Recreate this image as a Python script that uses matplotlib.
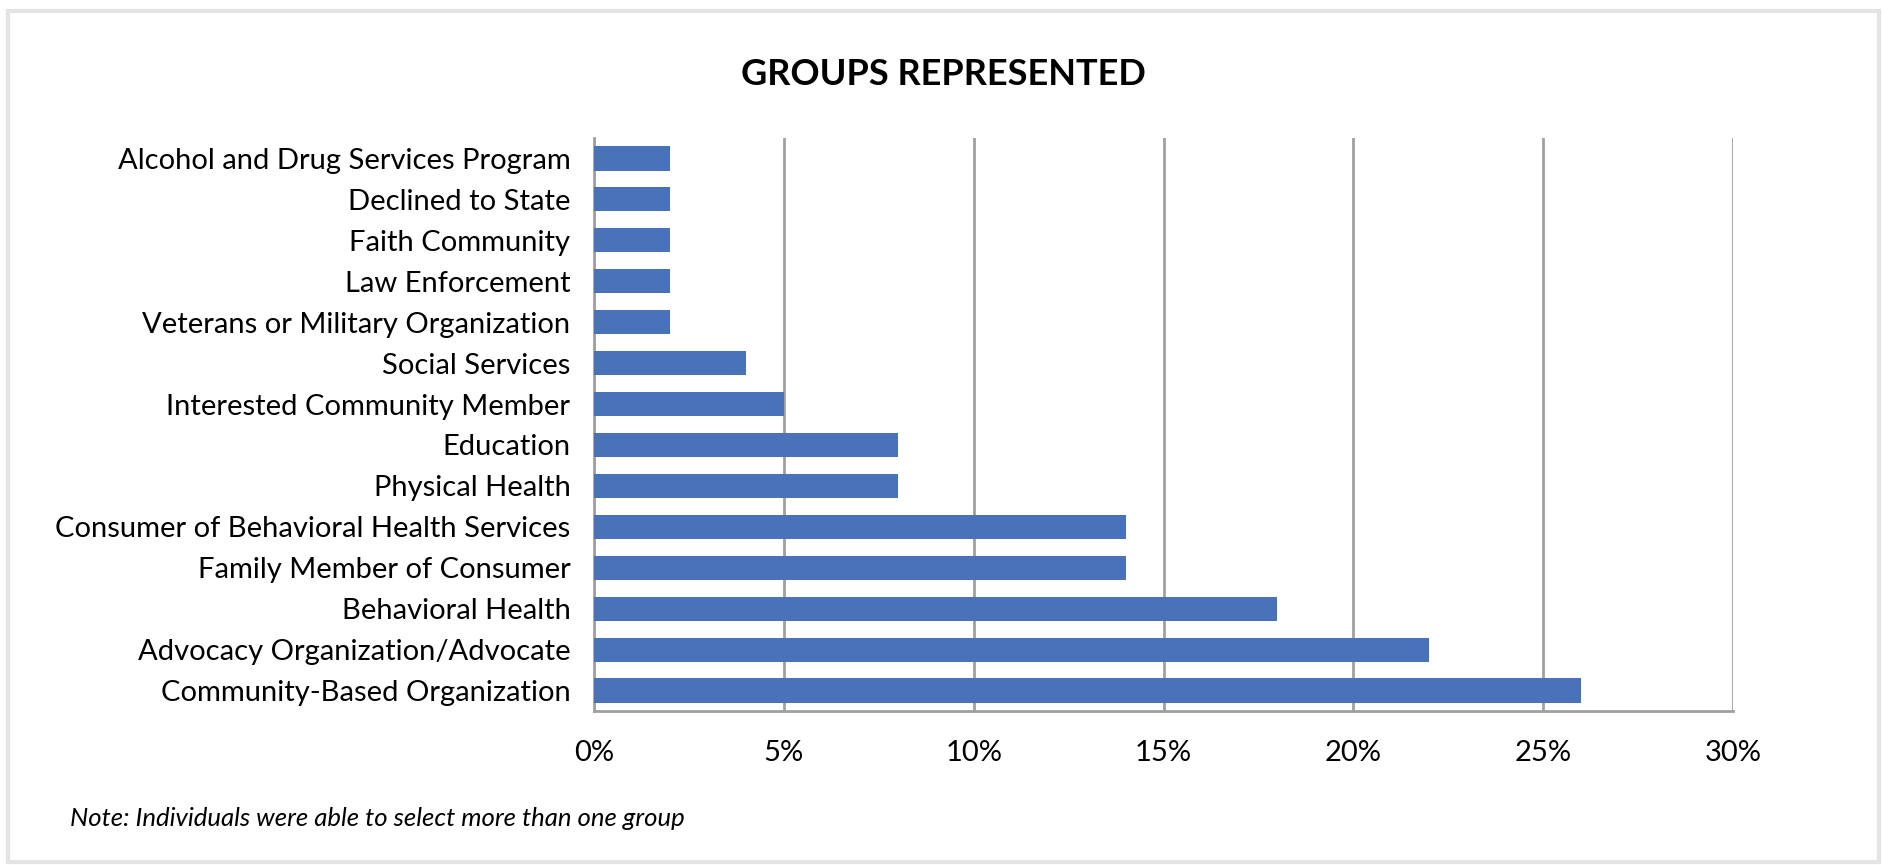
import matplotlib.pyplot as plt
from matplotlib.patches import Rectangle
from matplotlib.ticker import FuncFormatter

groups = [
    "Alcohol and Drug Services Program",
    "Declined to State",
    "Faith Community",
    "Law Enforcement",
    "Veterans or Military Organization",
    "Social Services",
    "Interested Community Member",
    "Education",
    "Physical Health",
    "Consumer of Behavioral Health Services",
    "Family Member of Consumer",
    "Behavioral Health",
    "Advocacy Organization/Advocate",
    "Community-Based Organization",
]
pct = [2, 2, 2, 2, 2, 4, 5, 8, 8, 14, 14, 18, 22, 26]
xticks = [0, 5, 10, 15, 20, 25, 30]

plt.rcParams['font.family'] = ['Lato', 'DejaVu Sans']

fig = plt.figure(figsize=(18.83, 8.65), dpi=100)
ax = fig.add_axes([0.3155, 0.178, 0.6048, 0.6625])

ypos = list(range(len(groups)))
ax.barh(ypos, pct, height=0.59, color="#4a72b8", zorder=3)
ax.set_ylim(len(groups) - 0.5, -0.5)
ax.set_yticks(ypos)
ax.set_yticklabels(groups, fontsize=21)
ax.set_xlim(0, 30)
ax.set_xticks(xticks)
ax.xaxis.set_major_formatter(FuncFormatter(lambda v, p: f"{v:.0f}%"))
ax.tick_params(axis="x", labelsize=21, length=0, pad=21)
ax.tick_params(axis="y", length=0, pad=17)
ax.grid(axis="x", color="#a0a0a0", linewidth=2, zorder=0)

for side in ["top", "right"]:
    ax.spines[side].set_visible(False)
for side in ["left", "bottom"]:
    ax.spines[side].set_color("#a0a0a0")
    ax.spines[side].set_linewidth(2)

fig.text(0.501, 0.914, "GROUPS REPRESENTED", ha="center", va="center",
         fontsize=26, fontweight="bold")
fig.text(0.037, 0.054, "Note: Individuals were able to select more than one group",
         ha="left", va="center", fontsize=18.5, style="italic")

fig.patches.append(Rectangle((0.0045, 0.004), 0.9935, 0.9835, transform=fig.transFigure,
                             fill=False, edgecolor="#e4e4e4", linewidth=3))

fig.savefig("out.png", dpi=100)
